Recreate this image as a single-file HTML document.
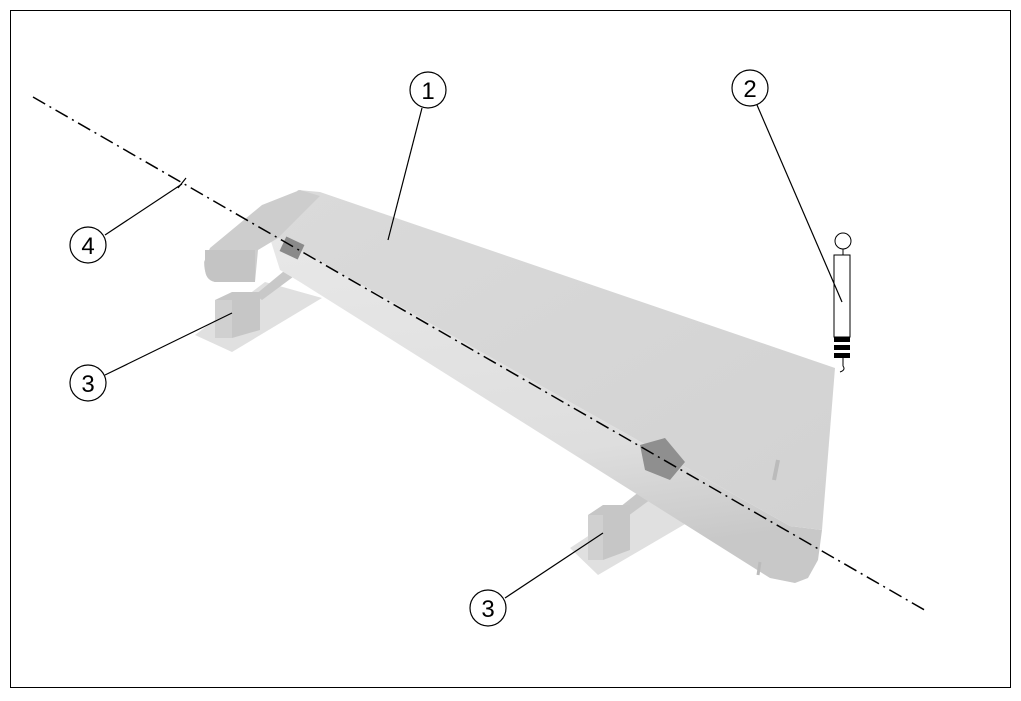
<!DOCTYPE html>
<html><head><meta charset="utf-8"><style>body{margin:0;background:#fff}svg{display:block}</style></head><body>
<svg width="1021" height="701" viewBox="0 0 1021 701" xmlns="http://www.w3.org/2000/svg" font-family="Liberation Sans, sans-serif">
<defs>
<linearGradient id="tube" x1="0" y1="0" x2="0.2" y2="1"><stop offset="0" stop-color="#e8e8e8"/><stop offset="0.7" stop-color="#dedede"/><stop offset="1" stop-color="#c8c8c8"/></linearGradient>
<linearGradient id="top" x1="0" y1="0" x2="1" y2="1"><stop offset="0" stop-color="#dadada"/><stop offset="1" stop-color="#d2d2d2"/></linearGradient>
</defs>
<rect x="10.5" y="10.5" width="1000" height="677" fill="#fff" stroke="#000" stroke-width="1"/>
<polygon points="195,335 265,282 322,298 232,352" fill="#e0e0e0"/>
<polygon points="570,548 655,492 692,520 598,575" fill="#e0e0e0"/>
<polygon points="255,295 295,262 305,268 262,300" fill="#c8c8c8"/>
<polygon points="610,515 660,475 670,485 620,522" fill="#c8c8c8"/>
<polygon points="215,300 232,292 260,292 260,330 232,338 215,338" fill="#c6c6c6"/>
<polygon points="215,300 232,300 232,338 215,338" fill="#d0d0d0"/>
<polygon points="588,515 603,505 630,505 630,550 603,560 588,560" fill="#c6c6c6"/>
<polygon points="588,515 603,515 603,560 588,560" fill="#d0d0d0"/>
<!-- tube -->
<polygon points="268,232 790,526 822,530 818,560 808,578 795,583 770,578 300,282 280,270" fill="url(#tube)"/>
<!-- top face -->
<polygon points="268,232 298,190 320,192 835,368 822,530 790,526" fill="url(#top)"/>
<!-- end cap -->
<path d="M210,248 L262,205 L300,190 L320,196 L278,238 L258,250 L255,282 L215,282 Q204,278 204,262 Z" fill="#cdcdcd"/>
<path d="M205,250 L255,250 L255,282 L215,282 Q205,280 205,268 Z" fill="#c4c4c4"/>
<rect x="282" y="240" width="20" height="16" fill="#8a8a8a" transform="rotate(25 292 248)"/>
<polygon points="640,445 665,438 685,462 670,480 645,470" fill="#8f8f8f"/>
<line x1="778" y1="460" x2="774" y2="480" stroke="#bbb" stroke-width="4"/>
<line x1="760" y1="562" x2="758" y2="575" stroke="#bbb" stroke-width="3"/>
<line x1="33" y1="97" x2="928" y2="612" stroke="#000" stroke-width="1.5" stroke-dasharray="14,5,2,5"/>
<line x1="178" y1="188" x2="186" y2="178" stroke="#000" stroke-width="1.2"/>
<circle cx="843" cy="241" r="8" fill="#fff" stroke="#000"/>
<line x1="843" y1="249" x2="843" y2="255" stroke="#000"/>
<rect x="834" y="255" width="16" height="82" fill="#fff" stroke="#000"/>
<rect x="834" y="337" width="16" height="5" fill="#000"/>
<rect x="834" y="345" width="16" height="5" fill="#000"/>
<rect x="834" y="353" width="16" height="5" fill="#000"/>
<path d="M843,358 L843,366 Q846,370 840,372" fill="none" stroke="#000"/>
<g stroke="#000" stroke-width="1.2" fill="none">
<line x1="422" y1="108" x2="388" y2="240"/>
<line x1="757" y1="105" x2="842" y2="302"/>
<line x1="105" y1="235" x2="182" y2="184"/>
<line x1="105" y1="375" x2="232" y2="313"/>
<line x1="505" y1="598" x2="603" y2="533"/>
</g>
<g fill="#fff" stroke="#000" stroke-width="1.2">
<circle cx="428" cy="90" r="18"/><circle cx="750" cy="88" r="18"/><circle cx="88" cy="245" r="18"/><circle cx="88" cy="383" r="18"/><circle cx="488" cy="608" r="18"/>
</g>
<g font-size="24" text-anchor="middle" fill="#000">
<text x="428" y="99">1</text><text x="750" y="97">2</text><text x="88" y="254">4</text><text x="88" y="392">3</text><text x="488" y="617">3</text>
</g>
</svg>
</body></html>
